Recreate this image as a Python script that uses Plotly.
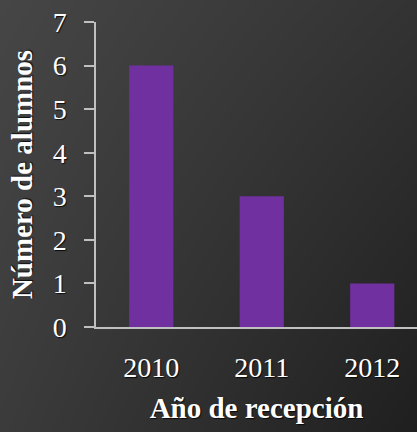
import base64
import struct
import zlib

import plotly.graph_objects as go

years = ["2010", "2011", "2012"]
alumnos = [6, 3, 1]
y_ticks = [0, 1, 2, 3, 4, 5, 6, 7]

W, H = 417, 432
ML, MR, MT, MB = 96, 0, 22, 105


def gradient_png(w, h, tl, tr, bl, br):
    rows = []
    for j in range(h):
        v = j / (h - 1)
        row = bytearray([0])
        for i in range(w):
            u = i / (w - 1)
            g = (tl * (1 - u) * (1 - v) + tr * u * (1 - v) + bl * (1 - u) * v + br * u * v)
            g = int(round(g))
            row += bytes((g, g, g))
        rows.append(bytes(row))
    raw = b"".join(rows)

    def chunk(tag, data):
        c = struct.pack(">I", len(data)) + tag + data
        return c + struct.pack(">I", zlib.crc32(tag + data) & 0xffffffff)

    png = b"\x89PNG\r\n\x1a\n"
    png += chunk(b"IHDR", struct.pack(">IIBBBBB", w, h, 8, 2, 0, 0, 0))
    png += chunk(b"IDAT", zlib.compress(raw, 9))
    png += chunk(b"IEND", b"")
    return "data:image/png;base64," + base64.b64encode(png).decode()


bg = gradient_png(W, H, 0x46, 0x33, 0x3b, 0x1f)

pw = W - ML - MR
ph = H - MT - MB

fig = go.Figure()
fig.add_trace(go.Bar(x=years, y=alumnos, marker=dict(color="#7030a0", line=dict(width=0)), width=0.4))

shadow = "1px 1px 1px rgba(0,0,0,0.8)"
font_family = "Liberation Serif"
fig.update_layout(
    width=W, height=H,
    margin=dict(l=ML, r=MR, t=MT, b=MB),
    paper_bgcolor="#2e2e2e",
    plot_bgcolor="rgba(0,0,0,0)",
    images=[dict(source=bg, xref="paper", yref="paper",
                 x=-ML / pw, y=1 + MT / ph, sizex=W / pw, sizey=H / ph,
                 xanchor="left", yanchor="top", sizing="stretch", layer="below")],
    showlegend=False,
    font=dict(family=font_family, color="white", size=28, shadow=shadow),
    xaxis=dict(range=[-0.5, 2.405], showline=True, linecolor="#c0c0c0", linewidth=1.5,
               ticks="", showgrid=False, zeroline=False,
               tickfont=dict(size=28, shadow=shadow),
               ticklabelstandoff=15,
               title=dict(text="<b>Año de recepción</b>", font=dict(size=29, shadow=shadow), standoff=15)),
    yaxis=dict(range=[0, 7], tickvals=y_ticks, showline=True, linecolor="#c0c0c0", linewidth=1.5,
               ticks="outside", ticklen=10, tickcolor="#c0c0c0", tickwidth=1.5,
               showgrid=False, zeroline=False,
               tickfont=dict(size=28, shadow=shadow), ticklabelstandoff=12,
               title=dict(text="<b>Número de alumnos</b>", font=dict(size=29, shadow=shadow), standoff=12)),
)

fig.write_html("out.html", config={"displayModeBar": False},
               post_script="document.body.style.margin='0';document.body.style.background='#2e2e2e';")
